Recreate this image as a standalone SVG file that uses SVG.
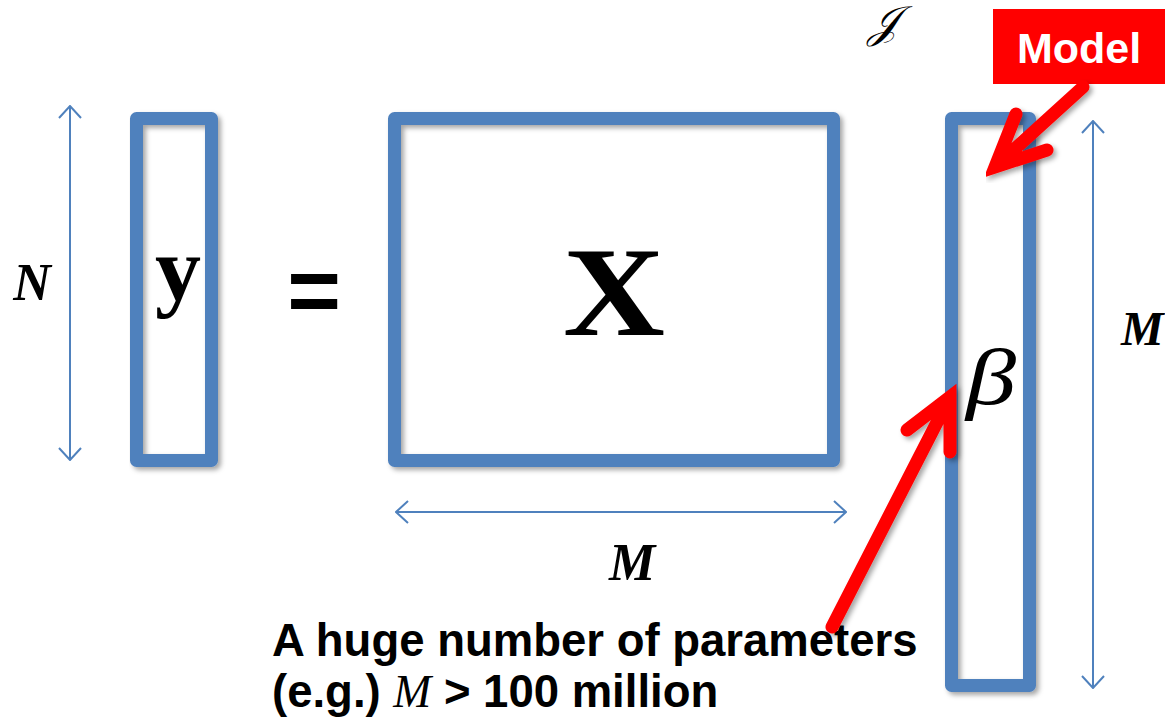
<svg xmlns="http://www.w3.org/2000/svg" width="1165" height="717" viewBox="0 0 1165 717">
<defs>
  <filter id="sh" x="-10%" y="-10%" width="130%" height="130%">
    <feDropShadow dx="3" dy="3" stdDeviation="2.5" flood-color="#000" flood-opacity="0.35"/>
  </filter>
  <marker id="chev" viewBox="0 0 14 24" refX="13" refY="12" markerWidth="14" markerHeight="24" markerUnits="userSpaceOnUse" orient="auto-start-reverse">
    <path d="M1,1 L13,12 L1,23" fill="none" stroke="#4F81BD" stroke-width="2"/>
  </marker>
  <style>
    .box{fill:none;stroke:#4F81BD;stroke-width:13;stroke-linejoin:round;filter:url(#sh)}
    .dim{stroke:#4F81BD;stroke-width:2;fill:none;marker-start:url(#chev);marker-end:url(#chev)}
    .red{fill:none;stroke:#FF0000;stroke-width:13;stroke-linecap:round;stroke-linejoin:miter;filter:url(#sh)}
    .math{font-family:"Liberation Serif","Times New Roman",serif;fill:#000}
    .lbl{font-family:"Liberation Sans",Arial,sans-serif;font-weight:bold;fill:#000}
  </style>
</defs>
<rect width="1165" height="717" fill="#fff"/>

<g id="node-y">
  <rect class="box" x="136.5" y="118.5" width="75" height="342"/>
  <text class="math" x="178" y="300" font-size="92" font-weight="bold" text-anchor="middle">y</text>
</g>

<g id="node-eq">
  <text class="lbl" x="314" y="322" font-size="92" text-anchor="middle">=</text>
</g>

<g id="node-X">
  <rect class="box" x="394.5" y="118.5" width="439" height="342"/>
  <text class="math" x="563" y="335" font-size="128" font-weight="bold" textLength="102" lengthAdjust="spacingAndGlyphs">X</text>
</g>

<g id="node-beta">
  <rect class="box" x="951.5" y="118.5" width="78" height="567"/>
  <text class="math" x="966" y="404" font-size="80" font-style="italic" textLength="50" lengthAdjust="spacingAndGlyphs">β</text>
</g>

<g id="node-model">
  <rect x="993" y="9" width="172" height="75" fill="#FF0000"/>
  <text class="lbl" x="1079" y="63" font-size="43" text-anchor="middle" style="fill:#fff">Model</text>
</g>

<g id="labels">
  <text class="math" x="32" y="300" font-size="52" font-weight="bold" font-style="italic" text-anchor="middle">N</text>
  <text class="math" x="632" y="580" font-size="52" font-weight="bold" font-style="italic" text-anchor="middle">M</text>
  <text class="math" x="1121" y="345" font-size="48" font-weight="bold" font-style="italic">M</text>
  <text class="math" x="868" y="37" font-size="44" font-style="italic">𝒥</text>
  <text class="lbl" x="272" y="656" font-size="45.5">A huge number of parameters</text>
  <text class="lbl" x="272" y="707" font-size="45.5">(e.g.) <tspan font-style="italic" font-weight="normal" style="font-family:'Liberation Serif','Times New Roman',serif">M</tspan> &gt; 100 million</text>
</g>

<g id="connectors">
  <line class="dim" x1="70" y1="106" x2="70" y2="460"/>
  <line class="dim" x1="396" y1="512" x2="846" y2="512"/>
  <line class="dim" x1="1093" y1="121" x2="1093" y2="688"/>
  <path class="red" d="M1083,87 L997,165 M1016,114 L995,167 L1047,150"/>
  <path class="red" d="M832,627 L949,399 M907,430 L950,397 L950,452"/>
</g>
</svg>
